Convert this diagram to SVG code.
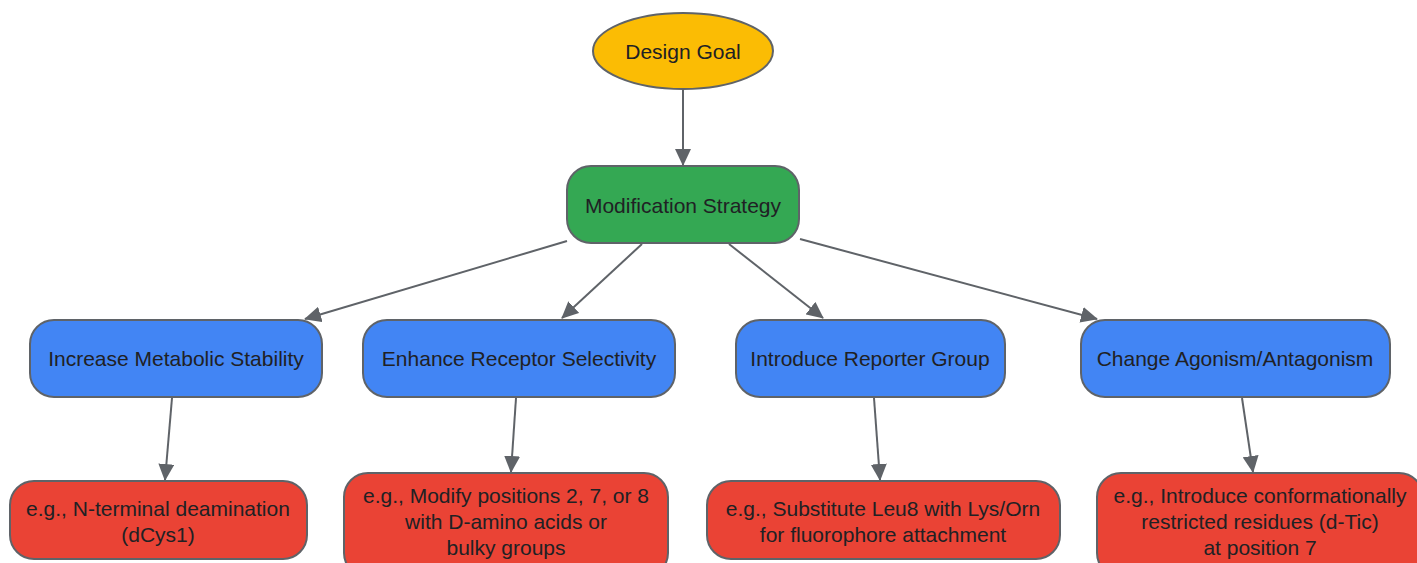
<svg xmlns="http://www.w3.org/2000/svg" width="1417" height="563" viewBox="0 0 1417 563">
<style>
text{font-family:"Liberation Sans",Arial,sans-serif;font-size:21px;fill:#202124;text-anchor:middle;dominant-baseline:central}
.n{stroke:#5f6368;stroke-width:2}
.e{stroke:#5f6368;stroke-width:2;fill:none}
</style>
<defs>
<marker id="ah" markerUnits="userSpaceOnUse" markerWidth="17" markerHeight="16" refX="16" refY="8" orient="auto">
<path d="M0,0 L17,8 L0,16 z" fill="#5f6368"/>
</marker>
</defs>
<rect width="1417" height="563" fill="#ffffff"/>
<g id="edges">
<line class="e" x1="683" y1="90" x2="683" y2="165" marker-end="url(#ah)"/>
<line class="e" x1="567" y1="241" x2="305" y2="319" marker-end="url(#ah)"/>
<line class="e" x1="642" y1="244" x2="562" y2="318" marker-end="url(#ah)"/>
<line class="e" x1="729" y1="244" x2="823" y2="318" marker-end="url(#ah)"/>
<line class="e" x1="800" y1="239" x2="1097" y2="319" marker-end="url(#ah)"/>
<line class="e" x1="172" y1="398" x2="165" y2="480" marker-end="url(#ah)"/>
<line class="e" x1="516" y1="398" x2="511" y2="472" marker-end="url(#ah)"/>
<line class="e" x1="874" y1="398" x2="880" y2="480" marker-end="url(#ah)"/>
<line class="e" x1="1242" y1="398" x2="1253" y2="472" marker-end="url(#ah)"/>
</g>
<g id="design-goal">
<ellipse class="n" cx="683" cy="51" rx="90" ry="38" fill="#fbbc04"/>
<text x="683" y="51">Design Goal</text>
</g>
<g id="modification-strategy">
<rect class="n" x="567" y="166" width="232" height="77" rx="24" fill="#34a853"/>
<text x="683" y="205">Modification Strategy</text>
</g>
<g id="increase-stability">
<rect class="n" x="30" y="320" width="292" height="77" rx="24" fill="#4285f4"/>
<text x="176" y="358">Increase Metabolic Stability</text>
</g>
<g id="enhance-selectivity">
<rect class="n" x="363" y="320" width="312" height="77" rx="24" fill="#4285f4"/>
<text x="519" y="358">Enhance Receptor Selectivity</text>
</g>
<g id="reporter-group">
<rect class="n" x="736" y="320" width="269" height="77" rx="24" fill="#4285f4"/>
<text x="870" y="358">Introduce Reporter Group</text>
</g>
<g id="agonism">
<rect class="n" x="1081" y="320" width="309" height="77" rx="24" fill="#4285f4"/>
<text x="1235" y="358">Change Agonism/Antagonism</text>
</g>
<g id="ex-stability">
<rect class="n" x="10" y="481" width="297" height="78" rx="24" fill="#ea4335"/>
<text x="158" y="508">e.g., N-terminal deamination</text>
<text x="158" y="534">(dCys1)</text>
</g>
<g id="ex-selectivity">
<rect class="n" x="344" y="473" width="324" height="104" rx="24" fill="#ea4335"/>
<text x="506" y="495">e.g., Modify positions 2, 7, or 8</text>
<text x="506" y="521">with D-amino acids or</text>
<text x="506" y="547">bulky groups</text>
</g>
<g id="ex-reporter">
<rect class="n" x="707" y="481" width="353" height="78" rx="24" fill="#ea4335"/>
<text x="883" y="508">e.g., Substitute Leu8 with Lys/Orn</text>
<text x="883" y="534">for fluorophore attachment</text>
</g>
<g id="ex-agonism">
<rect class="n" x="1097" y="473" width="326" height="104" rx="24" fill="#ea4335"/>
<text x="1260" y="495">e.g., Introduce conformationally</text>
<text x="1260" y="521">restricted residues (d-Tic)</text>
<text x="1260" y="547">at position 7</text>
</g>
</svg>
